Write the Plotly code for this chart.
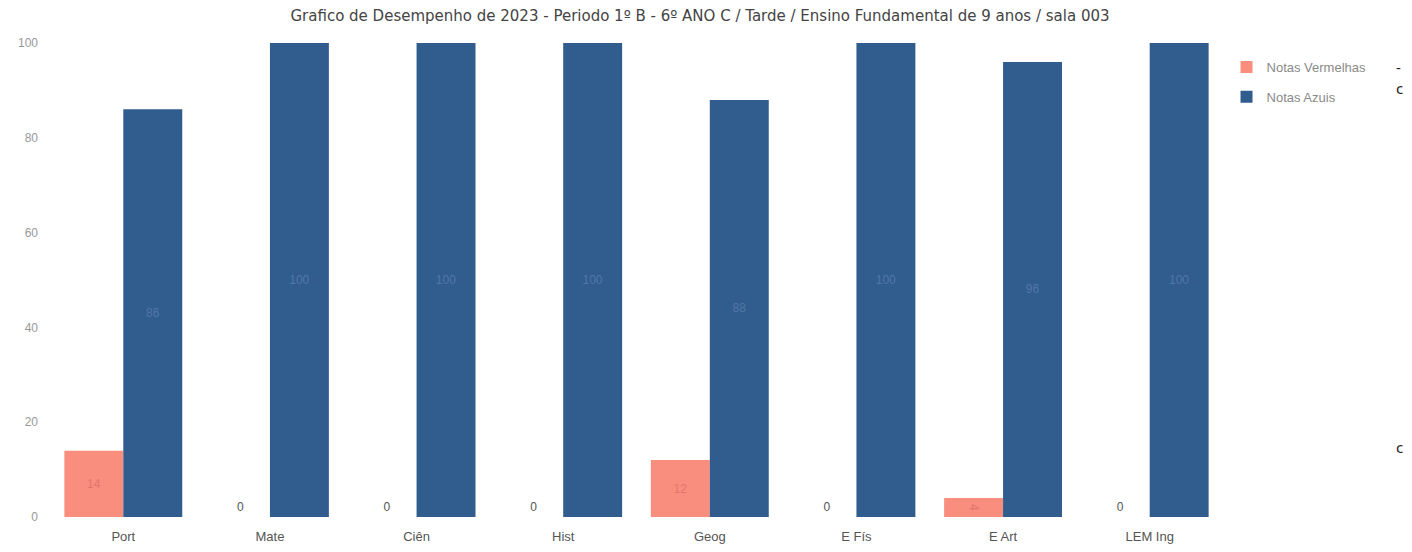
import plotly.graph_objects as go

categories = ["Port", "Mate", "Ciên", "Hist", "Geog", "E Fís", "E Art", "LEM Ing"]
notas_vermelhas = [14, 0, 0, 0, 12, 0, 4, 0]
notas_azuis = [86, 100, 100, 100, 88, 100, 96, 100]
y_ticks = [0, 20, 40, 60, 80, 100]

RED = "#F98E7E"
BLUE = "#305C8E"
FONT = "Liberation Sans"

fig = go.Figure()
fig.add_trace(go.Bar(
    name="Notas Vermelhas", x=categories, y=notas_vermelhas, legendgroup="v",
    marker=dict(color=RED, line=dict(width=0)),
    text=[str(v) for v in notas_vermelhas],
    textposition=["inside" if v > 0 else "outside" for v in notas_vermelhas],
    insidetextanchor="middle",
    insidetextfont=dict(color="#E3766A", size=12, family=FONT),
    outsidetextfont=dict(color="#555555", size=12, family=FONT),
    cliponaxis=False,
))
fig.add_trace(go.Bar(
    name="Notas Azuis", x=categories, y=notas_azuis, legendgroup="a",
    marker=dict(color=BLUE, line=dict(width=0)),
    text=[str(v) for v in notas_azuis],
    textposition="inside",
    insidetextanchor="middle",
    insidetextfont=dict(color="#5077A8", size=12, family=FONT),
    cliponaxis=False,
))

W, H = 1396, 536
L, R, T, B = 42, 181, 35, 27
PW = W - L - R
PH = H - T - B

fig.update_layout(
    width=W, height=H,
    margin=dict(l=L, r=R, t=T, b=B, pad=0, autoexpand=False),
    paper_bgcolor="white", plot_bgcolor="white",
    barmode="group", bargap=0.196, bargroupgap=0,
    uniformtext=dict(minsize=8, mode="show"),
    title=dict(
        text="Grafico de Desempenho de 2023 - Periodo 1º B - 6º ANO C / Tarde / Ensino Fundamental de 9 anos / sala 003",
        x=(692 - L) / PW, xref="paper", xanchor="center",
        y=1 - 2 / H, yref="container", yanchor="top",
        font=dict(size=15, color="#444444", family="DejaVu Sans"),
    ),
    xaxis=dict(
        showgrid=False, showline=False, zeroline=False, ticks="", automargin=False,
        ticklabelstandoff=10,
        tickfont=dict(size=13, color="#555555", family=FONT),
    ),
    yaxis=dict(
        range=[0, 100], tickvals=y_ticks, showgrid=False, showline=False, zeroline=False,
        ticks="", ticklabelstandoff=11, automargin=False,
        tickfont=dict(size=12, color="#999999", family=FONT),
    ),
    legend=dict(
        x=1.003, xanchor="left", y=0.981, yanchor="top",
        font=dict(size=13, color="#8A8A8A", family=FONT),
        traceorder="grouped", tracegroupgap=10,
    ),
    showlegend=True,
)

for txt, xpx, ypx in [("-", 1386, 59), ("c", 1386, 80), ("c", 1386, 439)]:
    fig.add_annotation(
        text=txt, xref="paper", yref="paper",
        x=(xpx - L) / PW, y=1 - (ypx - T) / PH,
        showarrow=False, xanchor="left", yanchor="middle",
        font=dict(size=15, color="#222222", family="Noto Sans"),
    )

fig.write_html("out.html")
